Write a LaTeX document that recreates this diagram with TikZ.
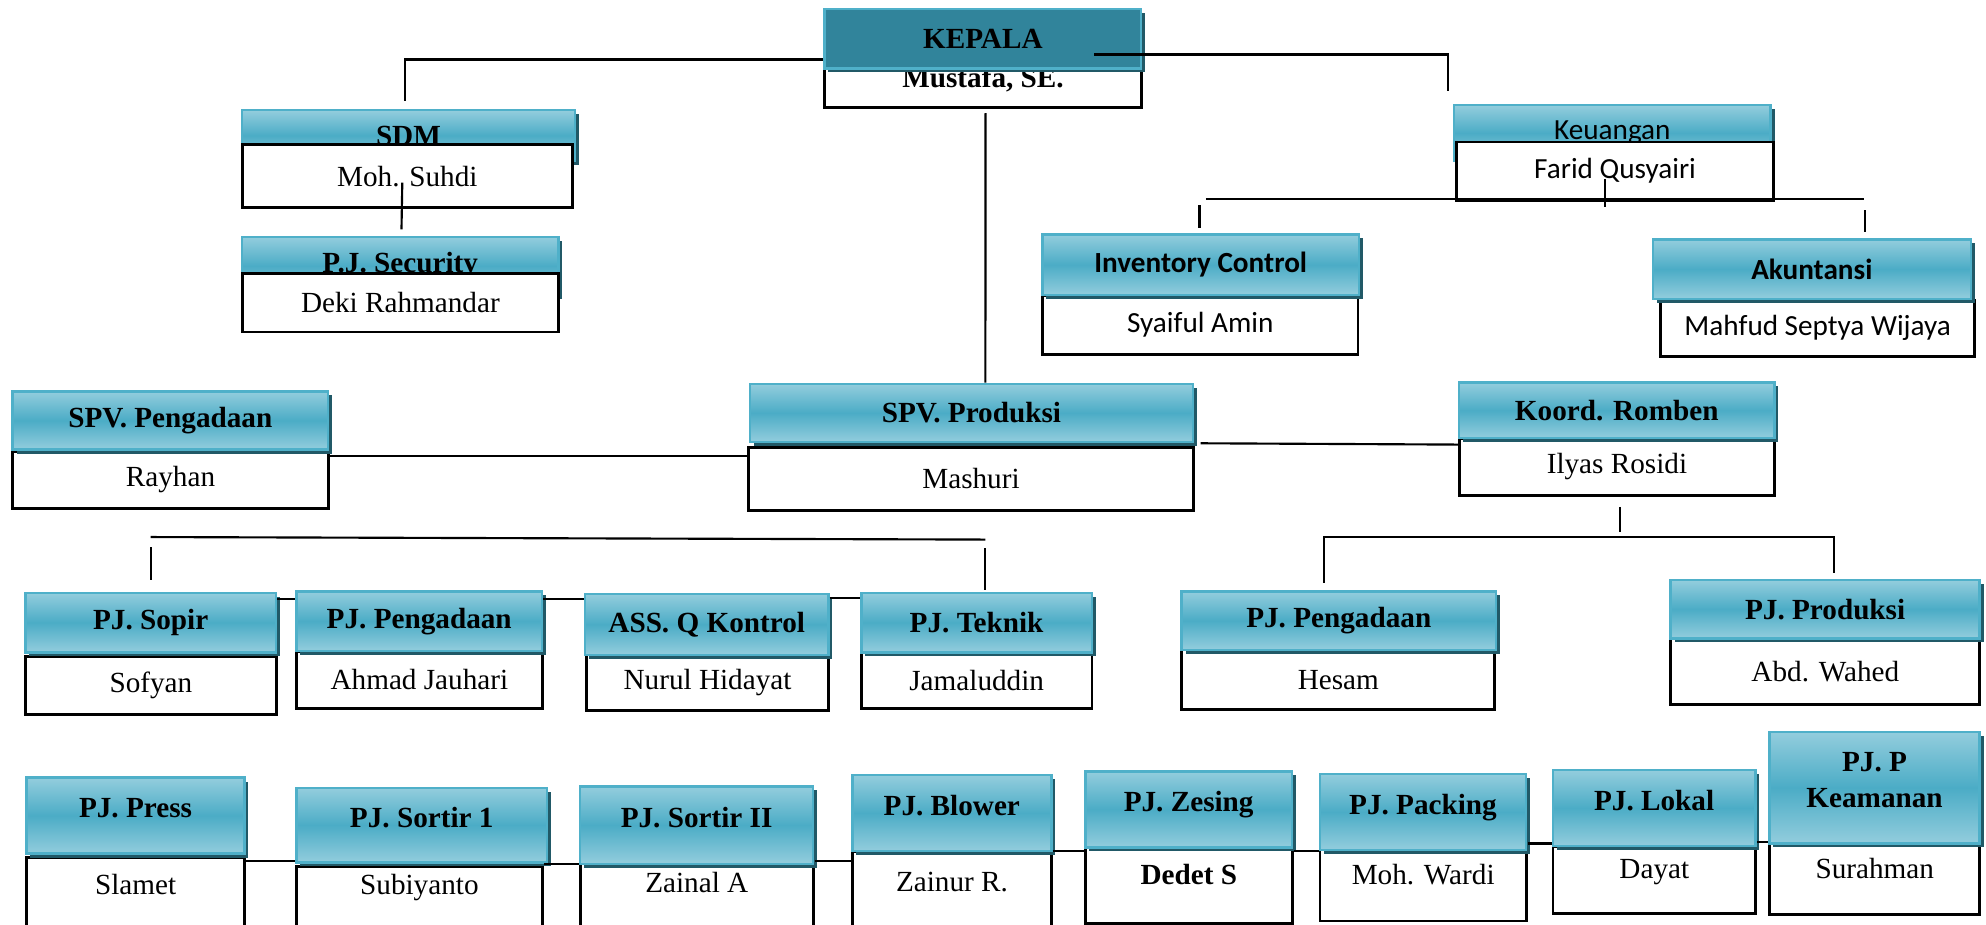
\documentclass[tikz,border=0pt]{standalone}
\usepackage{fontspec}
\setmainfont{Liberation Serif}
\newfontfamily\calfont{Carlito}
\usetikzlibrary{calc,shadows}

\definecolor{hdlight}{HTML}{93CDDD}
\definecolor{hdmid}{HTML}{4BACC6}
\definecolor{hdborder}{HTML}{4FB0C9}
\definecolor{hdshadow}{HTML}{215967}
\definecolor{kepalafill}{HTML}{31849B}

\tikzset{
  headbase/.style={anchor=north west, inner sep=0pt, draw=hdborder, line width=0.7pt,
    drop shadow={shadow xshift=1.1pt, shadow yshift=-1.1pt, fill=hdshadow, opacity=1},
    font=\fontsize{8.2}{10}\selectfont\bfseries},
  head/.style={headbase, top color=hdlight, bottom color=hdlight, middle color=hdmid},
  person/.style={anchor=north west, inner sep=0pt, draw=black, fill=white, line width=0.8pt,
    font=\fontsize{8.2}{10}\selectfont},
  sans/.style={font=\fontsize{8.2}{10}\selectfont\calfont},
  sansbold/.style={font=\fontsize{8.2}{10}\selectfont\calfont\bfseries},
  sz/.style 2 args={minimum width=#1*0.125mm, minimum height=#2*0.125mm},
  bothead/.style={head, text depth=1.5mm},
  botperson/.style={person, text depth=2.2mm},
  link/.style={draw=black, line width=0.6pt}
}

\begin{document}
\begin{tikzpicture}[x=0.125mm, y=-0.125mm]
    \useasboundingbox (0,0) rectangle (1568,730);

    % Kepala
    \node[person, sz={250}{44}, font=\fontsize{8.2}{10}\selectfont\bfseries] (kepalaP) at (650,40) {Mustafa, SE.};
    \node[headbase, sz={250}{47}, fill=kepalafill] (kepalaH) at (650,6) {KEPALA};

    % SDM and security
    \node[head, sz={263}{40}] (sdmH) at (190,86) {SDM};
    \node[person, sz={261}{50}] (sdmP) at (190,113) {Moh. Suhdi};
    \node[head, sz={250}{46}] (securityH) at (190,186) {P.J. Security};
    \node[person, sz={250}{46}] (securityP) at (190,215) {Deki Rahmandar};

    % Keuangan
    \node[head, sz={250}{44}, sans] (keuanganH) at (1147,82) {Keuangan};
    \node[person, sz={250}{46}, sans] (keuanganP) at (1149,111) {Farid Qusyairi};
    \node[person, sz={249}{47}, sans] (inventoryP) at (822,232) {Syaiful Amin};
    \node[head, sz={250}{48}, sansbold] (inventoryH) at (822,184) {Inventory Control};
    \node[person, sz={248}{44}, sans] (akuntansiP) at (1310,236) {Mahfud Septya Wijaya};
    \node[head, sz={251}{47}, sansbold] (akuntansiH) at (1304,188) {Akuntansi};

    % Supervisors
    \node[person, sz={249}{45}] (spvPengadaanP) at (9,355) {Rayhan};
    \node[head, sz={249}{46}] (spvPengadaanH) at (9,308) {SPV. Pengadaan};
    \node[person, sz={351}{50}] (spvProduksiP) at (590,352) {Mashuri};
    \node[head, sz={350}{46}] (spvProduksiH) at (591,302) {SPV. Produksi};
    \node[person, sz={249}{45}] (rombenP) at (1151,345) {Ilyas Rosidi};
    \node[head, sz={249}{44}] (rombenH) at (1151,301) {Koord. Romben};

    % under Koord. Romben
    \node[person, sz={247}{47}] (pengadaanRP) at (932,512) {Hesam};
    \node[head, sz={248}{46}] (pengadaanRH) at (932,466) {PJ. Pengadaan};
    \node[person, sz={244}{52}] (produksiP) at (1318,503) {Abd. Wahed};
    \node[head, sz={244}{46}] (produksiH) at (1318,457) {PJ. Produksi};

    % middle row
    \node[person, sz={198}{46}] (sopirP) at (19,517) {Sofyan};
    \node[head, sz={198}{47}] (sopirH) at (19,467) {PJ. Sopir};
    \node[person, sz={194}{45}] (pengadaanLP) at (233,513) {Ahmad Jauhari};
    \node[head, sz={194}{47}] (pengadaanLH) at (233,466) {PJ. Pengadaan};
    \node[person, sz={191}{44}] (qkontrolP) at (462,516) {Nurul Hidayat};
    \node[head, sz={192}{48}] (qkontrolH) at (461,468) {ASS. Q Kontrol};
    \node[person, sz={182}{44}] (teknikP) at (679,514) {Jamaluddin};
    \node[head, sz={182}{47}] (teknikH) at (679,467) {PJ. Teknik};

    % bottom row
    \node[botperson, sz={172}{60}] (pressP) at (20,676) {Slamet};
    \node[bothead, sz={172}{60}] (pressH) at (20,613) {PJ. Press};
    \node[botperson, sz={194}{53}, text depth=3.2mm] (sortirSatuP) at (233,683) {Subiyanto};
    \node[bothead, sz={198}{59}] (sortirSatuH) at (233,621) {PJ. Sortir 1};
    \node[botperson, sz={184}{55}, text depth=3.2mm] (sortirDuaP) at (457,681) {Zainal A};
    \node[bothead, sz={184}{61}] (sortirDuaH) at (457,620) {PJ. Sortir II};
    \node[botperson, sz={157}{65}] (blowerP) at (672,671) {Zainur R.};
    \node[bothead, sz={157}{60}] (blowerH) at (672,611) {PJ. Blower};
    \node[botperson, sz={163}{60}] (zesingP) at (856,668) {\textbf{Dedet S}};
    \node[bothead, sz={163}{60}] (zesingH) at (856,608) {PJ. Zesing};
    \node[botperson, sz={163}{56}] (packingP) at (1041,670) {Moh. Wardi};
    \node[bothead, sz={163}{60}] (packingH) at (1041,610) {PJ. Packing};
    \node[botperson, sz={160}{53}] (lokalP) at (1225,667) {Dayat};
    \node[bothead, sz={160}{60}] (lokalH) at (1225,607) {PJ. Lokal};
    \node[botperson, sz={166}{56}] (keamananP) at (1396,665) {Surahman};
    \node[bothead, sz={166}{88}, align=center] (keamananH) at (1396,577) {PJ. P\\Keamanan};

    % links from Kepala
    \draw[link] ($(kepalaH.north west)+(0,41)$) -| ($(sdmH.north)+(-3,-6)$);
    \draw[link] ($(kepalaH.east)+(-38,12.5)$) -| ($(keuanganH.north west)+(-4,-10)$);
    \draw[link] ($(kepalaP.south)+(2,3)$) -- ($(spvProduksiH.north)+(11,0)$);
    \draw[link] ($(sdmP.center)+(-4,5)$) -- ($(securityH.north)+(1,-5)$);

    % Keuangan tree
    \draw[link] ($(keuanganP.center)+(-8,6)$) -- ($(keuanganP.south)+(-8,4)$);
    \draw[link] ($(inventoryH.north)+(4,-27)$) -- ($(akuntansiH.north)+(41,-31)$);
    \draw[link] ($(inventoryH.north)+(-1,-22)$) -- ($(inventoryH.north)+(-1,-4)$);
    \draw[link] ($(akuntansiH.north)+(42,-22)$) -- ($(akuntansiH.north)+(42,-5)$);

    % supervisors
    \draw[link] ($(spvPengadaanP.north east)+(0,5)$) -- ($(spvProduksiP.north west)+(0,8)$);
    \draw[link] ($(spvProduksiH.south east)+(5,0)$) -- ($(rombenP.north west)+(0,6)$);

    % Koord. Romben tree
    \draw[link] ($(rombenP.south)+(2.5,8)$) -- ($(rombenP.south)+(2.5,28)$);
    \draw[link] ($(pengadaanRH.north)+(-12,-6)$) |- ($(produksiH.north)+(7,-33)$) -- ($(produksiH.north)+(7,-5)$);

    % middle row
    \draw[link] ($(sopirH.north)+(0,-43)$) -- ($(teknikH.north)+(7,-41)$);
    \draw[link] ($(sopirH.north)+(0,-35)$) -- ($(sopirH.north)+(0,-9)$);
    \draw[link] ($(teknikH.north)+(7,-34)$) -- ($(teknikH.north)+(7,-1)$);
    \draw[link] ($(sopirH.north east)+(0,6)$) -- ($(pengadaanLH.north west)+(0,7)$);
    \draw[link] ($(pengadaanLH.north east)+(0,7)$) -- ($(qkontrolH.north west)+(0,5)$);
    \draw[link] ($(qkontrolH.north east)+(0,4)$) -- ($(teknikH.north west)+(0,5)$);

    % bottom row
    \draw[link] ($(pressP.north east)+(0,4)$) -- ($(sortirSatuP.north west)+(0,-3)$);
    \draw[link] ($(sortirSatuP.north east)+(0,-1)$) -- ($(sortirDuaP.north west)+(0,1)$);
    \draw[link] ($(sortirDuaP.north east)+(0,-1)$) -- ($(blowerP.north west)+(0,9)$);
    \draw[link] ($(blowerP.north east)+(0,1)$) -- ($(zesingP.north west)+(0,4)$);
    \draw[link] ($(zesingP.north east)+(0,4)$) -- ($(packingP.north west)+(0,2)$);
    \draw[link] ($(packingP.north east)+(0,-4)$) -- ($(lokalP.north west)+(0,-1)$);
    \draw[link] ($(lokalP.north east)+(0,-2)$) -- (keamananP.north west);
\end{tikzpicture}
\end{document}
